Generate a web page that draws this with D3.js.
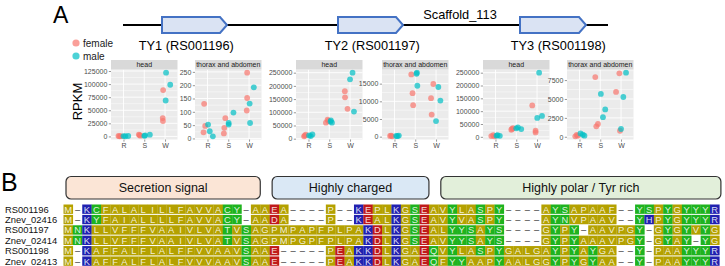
<!DOCTYPE html>
<html>
<head>
<meta charset="utf-8">
<script src="https://cdn.jsdelivr.net/npm/d3@7"></script>
<style>
  body { margin: 0; background: #fff; }
  svg { display: block; font-family: "Liberation Sans", Arial, sans-serif; }
</style>
</head>
<body>
<svg id="fig" width="725" height="266"></svg>
<script>
// ---------- data ----------
const geneLabels = ['TY1 (RS001196)', 'TY2 (RS001197)', 'TY3 (RS001198)'];
const geneStart = [39, 215, 397];      // position on scaffold (relative units)
const geneEnd = [104, 280, 463];
const scaffoldLength = 485;
const scaffoldName = 'Scaffold_113';

const tissues = ['head', 'thorax and abdomen'];
const stages = ['R', 'S', 'W'];
const sexes = ['female', 'male'];

// [stage, sex, RPKM, horizontal jitter in category units]
const ty1Head = [
  ['R','female',900,-0.24], ['R','female',400,-0.13], ['R','female',200,-0.19],
  ['R','male',600,0.0], ['R','male',300,0.09], ['R','male',800,0.23],
  ['S','female',3500,-0.26], ['S','female',1500,-0.19], ['S','female',2500,-0.22],
  ['S','male',1200,0.0], ['S','male',2000,0.04], ['S','male',3400,0.27],
  ['W','female',88500,-0.09], ['W','female',35000,-0.11], ['W','female',29500,-0.1],
  ['W','male',121800,0.05], ['W','male',98700,0.25], ['W','male',68600,0.03]
];
const ty1Body = [
  ['R','female',130,-0.16], ['R','female',47,-0.11], ['R','female',23,-0.19],
  ['R','male',52,0.03], ['R','male',27,0.11], ['R','male',8,0.26],
  ['S','female',76,-0.14], ['S','female',40,-0.19], ['S','female',19,-0.21],
  ['S','male',52,0.02], ['S','male',58,0.02], ['S','male',97,0.25],
  ['W','female',247,-0.09], ['W','female',152,-0.09], ['W','female',105,-0.11],
  ['W','male',192,0.23], ['W','male',131,0.03], ['W','male',58,0.05]
];
const ty2Head = [
  ['R','female',9000,-0.21], ['R','female',15000,-0.13], ['R','female',12000,-0.18],
  ['R','male',10000,0.11], ['R','male',16000,0.19], ['R','male',12500,0.03],
  ['S','female',60500,-0.16], ['S','female',72400,-0.08], ['S','female',67000,-0.04],
  ['S','male',69700,0.08], ['S','male',60500,0.13], ['S','male',65000,0.06],
  ['W','female',180000,-0.25], ['W','female',156600,-0.24], ['W','female',113000,-0.12],
  ['W','male',250000,0.12], ['W','male',225000,0.0], ['W','male',102600,0.19]
];
const ty2Body = [
  ['R','female',200,-0.21], ['R','female',100,-0.11], ['R','female',300,-0.16],
  ['R','male',200,0.08], ['R','male',300,0.21], ['R','male',150,0.14],
  ['S','female',17600,-0.19], ['S','female',12300,-0.13], ['S','female',8900,-0.1],
  ['S','male',18100,0.08], ['S','male',17800,0.06], ['S','male',14400,0.1],
  ['W','female',14900,-0.13], ['W','female',10900,-0.24], ['W','female',6260,-0.21],
  ['W','male',14050,0.11], ['W','male',10200,0.21], ['W','male',4400,0.0]
];
const ty3Head = [
  ['R','female',6600,-0.11], ['R','female',3000,-0.2], ['R','female',2000,-0.05],
  ['R','male',6600,0.1], ['R','male',3900,0.21], ['R','male',4500,0.05],
  ['S','female',27600,-0.24], ['S','female',34200,-0.16], ['S','female',31000,-0.2],
  ['S','male',36800,0.08], ['S','male',30300,0.24], ['S','male',33000,0.0],
  ['W','female',122400,-0.23], ['W','female',23700,-0.07], ['W','female',17100,-0.07],
  ['W','male',250000,0.1], ['W','male',73700,0.01], ['W','male',81600,0.24]
];
const ty3Body = [
  ['R','female',150,-0.08], ['R','female',60,-0.2], ['R','female',250,-0.13],
  ['R','male',440,0.05], ['R','male',270,0.16], ['R','male',150,0.24],
  ['S','female',7900,-0.24], ['S','female',1700,-0.11], ['S','female',1380,-0.19],
  ['S','male',5670,0.03], ['S','male',3615,0.24], ['S','male',2590,0.13],
  ['W','female',8390,-0.08], ['W','female',5930,-0.24], ['W','female',800,-0.05],
  ['W','male',8480,0.24], ['W','male',5260,0.11], ['W','male',1030,0.0]
];

const ty1HeadTicks = [0, 25000, 50000, 75000, 100000, 125000];
const ty1BodyTicks = [0, 50, 100, 150, 200, 250];
const ty2HeadTicks = [0, 50000, 100000, 150000, 200000, 250000];
const ty2BodyTicks = [0, 5000, 10000, 15000];
const ty3HeadTicks = [0, 50000, 100000, 150000, 200000, 250000];
const ty3BodyTicks = [0, 2500, 5000, 7500];

// alignment
const seqNames = ['RS001196', 'Znev_02416', 'RS001197', 'Znev_02414', 'RS001198', 'Znev_02413'];
const seqs = [
  'M-KCFALALILLFAVVACY-AAEA----P--KEPLKGSEAVYLASPY----AYSAPAAF--YSPYGYYYR',
  'M-KYFAIALLLLFAVVACY-AADA----P--KEALKGSEAVYVASPY----AYNVPAAV--YHPYGYYYR',
  'MNKLLVFFFVAAIVLVATVSAGPMPAPFPLPAKDLKGSEALYYSAYS----GYPY-AAVPGY-GYGYVYG',
  'MNKLLVFFFVAAIVLVATVSAGPMPGPFPLPAKDLKGSEAVYYSAYS----GYPYAAAVPGY-GYAY-YG',
  'M-KAFFALFLALFFVVAAVSAAE-----PEAKKDLKGAEQVYLASPYGALGAYPYAYGA--Y-PAAYYYR',
  'M-KAFFALFLALFVVVAAVSAAE-----PEAKKDLKGAEQFYYAAPYAALGGYPYGYAA--Y-PAAYYYR'
];
const regionLabels = ['Secretion signal', 'Highly charged', 'Highly polar / Tyr rich'];
const regionFrom = [1, 23, 41];   // alignment columns (1-based)
const regionTo = [21, 39, 70];

// ---------- drawing ----------
const svg = d3.select('#fig');
const sexColor = d3.scaleOrdinal().domain(sexes).range(['#F8766D', '#00BFC4']);
const FONT = '"Liberation Sans", Arial, sans-serif';

// panel letters
svg.append('text').attr('x', 53).attr('y', 23).attr('font-size', 23).text('A');
svg.append('text').attr('x', 1).attr('y', 191).attr('font-size', 25).text('B');

// scaffold diagram
const sx = d3.scaleLinear().domain([0, scaffoldLength]).range([123, 608]);
svg.append('line')
  .attr('x1', sx(0)).attr('x2', sx(scaffoldLength))
  .attr('y1', 25).attr('y2', 25)
  .attr('stroke', '#000').attr('stroke-width', 2);
svg.append('text')
  .attr('x', 460).attr('y', 18.5)
  .attr('text-anchor', 'middle').attr('font-size', 12.8)
  .text(scaffoldName);

svg.selectAll('path.gene')
  .data(geneStart.map((s, i) => ({ s: s, e: geneEnd[i] })))
  .join('path')
  .attr('class', 'gene')
  .attr('d', d => {
    const x0 = sx(d.s), x1 = sx(d.e), y0 = 17, y1 = 33, tip = 7;
    return `M${x0},${y0}H${x1 - tip}L${x1},${(y0 + y1) / 2}L${x1 - tip},${y1}H${x0}Z`;
  })
  .attr('fill', '#dae3f3')
  .attr('stroke', '#4472c4')
  .attr('stroke-width', 2);

// legend
const legend = svg.append('g');
sexes.forEach((s, i) => {
  legend.append('circle')
    .attr('cx', 76).attr('cy', 43 + i * 13).attr('r', 3.6)
    .attr('fill', sexColor(s)).attr('fill-opacity', 0.7);
  legend.append('text')
    .attr('x', 83).attr('y', 46.5 + i * 13)
    .attr('font-size', 10).attr('fill', '#1a1a1a')
    .text(s);
});

// facet panels
const panelW = 66.5;
const plotTop = 69.5, plotBottom = 139.5, stripTop = 60;
const panels = [
  { gene: 0, tissue: 0, left: 111, pts: ty1Head, ticks: ty1HeadTicks },
  { gene: 0, tissue: 1, left: 195, pts: ty1Body, ticks: ty1BodyTicks },
  { gene: 1, tissue: 0, left: 296, pts: ty2Head, ticks: ty2HeadTicks },
  { gene: 1, tissue: 1, left: 382, pts: ty2Body, ticks: ty2BodyTicks },
  { gene: 2, tissue: 0, left: 483, pts: ty3Head, ticks: ty3HeadTicks },
  { gene: 2, tissue: 1, left: 567, pts: ty3Body, ticks: ty3BodyTicks }
];

panels.forEach(p => {
  const g = svg.append('g');
  const x = d3.scalePoint().domain(stages).range([p.left, p.left + panelW]).padding(0.6);
  const ext = d3.extent(p.pts, d => d[2]);
  const pad = (ext[1] - ext[0]) * 0.05;
  const y = d3.scaleLinear().domain([ext[0] - pad, ext[1] + pad]).range([plotBottom, plotTop]);

  g.append('rect')
    .attr('x', p.left).attr('y', plotTop)
    .attr('width', panelW).attr('height', plotBottom - plotTop)
    .attr('fill', '#ebebeb');

  const step = p.ticks[1] - p.ticks[0];
  const minor = [p.ticks[0] - step / 2].concat(p.ticks.map(t => t + step / 2))
    .filter(v => v > y.domain()[0] && v < y.domain()[1]);
  g.selectAll('line.minor').data(minor).join('line')
    .attr('x1', p.left).attr('x2', p.left + panelW)
    .attr('y1', d => y(d)).attr('y2', d => y(d))
    .attr('stroke', '#fff').attr('stroke-width', 0.45);
  g.selectAll('line.major').data(p.ticks).join('line')
    .attr('x1', p.left).attr('x2', p.left + panelW)
    .attr('y1', d => y(d)).attr('y2', d => y(d))
    .attr('stroke', '#fff').attr('stroke-width', 0.9);
  g.selectAll('line.vmajor').data(stages).join('line')
    .attr('x1', d => x(d)).attr('x2', d => x(d))
    .attr('y1', plotTop).attr('y2', plotBottom)
    .attr('stroke', '#fff').attr('stroke-width', 0.9);

  g.selectAll('circle').data(p.pts).join('circle')
    .attr('cx', d => x(d[0]) + d[3] * x.step())
    .attr('cy', d => y(d[2]))
    .attr('r', 2.9)
    .attr('fill', d => sexColor(d[1]))
    .attr('fill-opacity', 0.7);

  // strip
  g.append('rect')
    .attr('x', p.left).attr('y', stripTop)
    .attr('width', panelW).attr('height', plotTop - stripTop)
    .attr('fill', '#d9d9d9');
  g.append('text')
    .attr('x', p.left + panelW / 2).attr('y', stripTop + 7.3)
    .attr('text-anchor', 'middle').attr('font-size', 7).attr('fill', '#1a1a1a')
    .text(tissues[p.tissue]);

  // y axis
  const ya = d3.axisLeft(y).tickValues(p.ticks).tickFormat(d3.format('d'))
    .tickSize(2.2).tickPadding(1.5);
  g.append('g').attr('transform', `translate(${p.left},0)`).call(ya)
    .call(a => a.select('.domain').remove())
    .call(a => a.selectAll('line').attr('stroke', '#333').attr('stroke-width', 0.5))
    .call(a => a.selectAll('text').attr('font-size', 7).attr('fill', '#4d4d4d')
      .attr('font-family', FONT));
  // x axis
  const xa = d3.axisBottom(x).tickSize(2.2).tickPadding(1.2);
  g.append('g').attr('transform', `translate(0,${plotBottom})`).call(xa)
    .call(a => a.select('.domain').remove())
    .call(a => a.selectAll('line').attr('stroke', '#333').attr('stroke-width', 0.5))
    .call(a => a.selectAll('text').attr('font-size', 7).attr('fill', '#4d4d4d')
      .attr('font-family', FONT));

  if (p.tissue === 1) {
    const prev = panels.find(q => q.gene === p.gene && q.tissue === 0);
    svg.append('text')
      .attr('x', (prev.left + p.left + panelW) / 2).attr('y', 50)
      .attr('text-anchor', 'middle').attr('font-size', 12.8)
      .text(geneLabels[p.gene]);
  }
});

svg.append('text')
  .attr('transform', 'translate(82,101.5) rotate(-90)')
  .attr('text-anchor', 'middle').attr('font-size', 13)
  .text('RPKM');

// ---------- alignment ----------
const nCol = seqs[0].length;
const cx = d3.scaleBand().domain(d3.range(nCol)).range([63.5, 719.4]);
const ry = d3.scaleBand().domain(seqNames).range([204.5, 265.8]).paddingInner(0.1);

const residueColor = aa => {
  if ('GAVLIFWMP'.includes(aa)) return '#b4a100';
  if ('STCYNQ'.includes(aa)) return '#1fb31f';
  if ('KRH'.includes(aa)) return '#2121b0';
  if ('DE'.includes(aa)) return '#c01a1a';
  return null;
};

const regionFills = ['#fbe5d6', '#dae8f5', '#e2efda'];
regionLabels.forEach((lab, i) => {
  const x0 = cx(regionFrom[i] - 1) + 2.5;
  const x1 = cx(regionTo[i] - 1) + cx.bandwidth() + (i === 2 ? 1.5 : 0);
  svg.append('rect')
    .attr('x', x0).attr('y', 176.5)
    .attr('width', x1 - x0).attr('height', 22.5)
    .attr('rx', 5)
    .attr('fill', regionFills[i]).attr('stroke', '#333').attr('stroke-width', 1.2);
  svg.append('text')
    .attr('x', (x0 + x1) / 2).attr('y', 192)
    .attr('text-anchor', 'middle').attr('font-size', 12.5).attr('fill', '#111')
    .text(lab);
});

seqs.forEach((s, r) => {
  const name = seqNames[r];
  const row = svg.append('g');
  row.append('text')
    .attr('x', 5).attr('y', ry(name) + ry.bandwidth() / 2).attr('dy', '0.36em')
    .attr('font-size', 9.4).attr('fill', '#111')
    .text(name);
  const cells = s.split('').map((aa, i) => ({ aa: aa, i: i }));
  row.selectAll('rect').data(cells.filter(d => d.aa !== '-')).join('rect')
    .attr('x', d => cx(d.i)).attr('y', ry(name))
    .attr('width', cx.bandwidth() + 0.2).attr('height', ry.bandwidth())
    .attr('fill', d => residueColor(d.aa));
  row.selectAll('text.aa').data(cells).join('text')
    .attr('class', 'aa')
    .attr('x', d => cx(d.i) + cx.bandwidth() / 2)
    .attr('y', ry(name) + ry.bandwidth() / 2).attr('dy', '0.36em')
    .attr('text-anchor', 'middle').attr('font-size', 9.4)
    .attr('fill', d => d.aa === '-' ? '#333' : '#fff')
    .attr('fill-opacity', d => d.aa === '-' ? 1 : 0.85)
    .text(d => d.aa === '-' ? '–' : d.aa);
});
</script>
</body>
</html>
